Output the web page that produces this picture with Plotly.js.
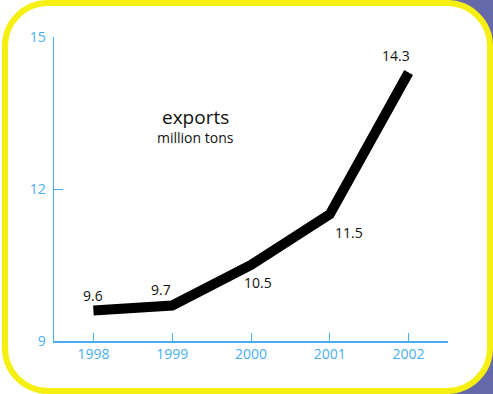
<!DOCTYPE html>
<html>
<head>
<meta charset="utf-8">
<script src="https://cdn.plot.ly/plotly-3.0.1.min.js"></script>
<style>
html,body{margin:0;padding:0;width:493px;height:394px;overflow:hidden;}
body{background:linear-gradient(to right,#ffffff 0px,#ffffff 450px,#6569a9 450px,#6569a9 493px);}
#frame{position:absolute;left:2px;top:0px;width:479px;height:382px;border:6px solid #f5f012;border-radius:46px;background:#ffffff;}
#chart{position:absolute;left:0;top:0;width:493px;height:394px;}
</style>
</head>
<body>
<div id="frame"></div>
<div id="chart"></div>
<script>
const years = [1998, 1999, 2000, 2001, 2002];
const exportsMt = [9.6, 9.7, 10.5, 11.5, 14.3];
const yTicks = [9, 12, 15];
const labelXShift = [0, -11, 7, 19, -13];
const labelYShift = [15, 16, -17, -18, 17];

const blue = '#48aef0';
const trace = {
  x: years, y: exportsMt, type: 'scatter', mode: 'lines',
  line: {color: '#000000', width: 10},
  hoverinfo: 'skip'
};
const annotations = years.map((yr, i) => ({
  x: yr, y: exportsMt[i], xref: 'x', yref: 'y',
  text: exportsMt[i].toFixed(1), showarrow: false,
  xanchor: 'center', yanchor: 'middle',
  xshift: labelXShift[i], yshift: labelYShift[i],
  font: {family: 'Open Sans, sans-serif', size: 14, color: '#111111'}
}));
annotations.push({
  xref: 'paper', yref: 'paper', x: 0.36, y: 0.737, showarrow: false,
  xanchor: 'center', yanchor: 'middle',
  text: 'exports', font: {family: 'Open Sans, sans-serif', size: 19, color: '#111111'}
});
annotations.push({
  xref: 'paper', yref: 'paper', x: 0.36, y: 0.668, showarrow: false,
  xanchor: 'center', yanchor: 'middle',
  text: 'million tons', font: {family: 'Open Sans, sans-serif', size: 14, color: '#111111'}
});
const layout = {
  width: 493, height: 394,
  margin: {l: 54, r: 45, t: 37, b: 53},
  paper_bgcolor: 'rgba(0,0,0,0)', plot_bgcolor: 'rgba(0,0,0,0)',
  showlegend: false,
  xaxis: {
    range: [1997.5, 2002.5], tickvals: years, ticktext: years.map(String),
    ticks: 'inside', ticklen: 8, tickcolor: blue, tickwidth: 1,
    showline: true, linecolor: blue, linewidth: 1.5,
    showgrid: false, zeroline: false,
    tickfont: {family: 'Open Sans, sans-serif', size: 14, color: blue}
  },
  yaxis: {
    range: [9, 15], tickvals: yTicks, ticktext: yTicks.map(String),
    ticks: 'inside', ticklen: 9, tickcolor: blue, tickwidth: 1,
    showline: true, linecolor: blue, linewidth: 1.5,
    showgrid: false, zeroline: false, ticklabelstandoff: 4,
    tickfont: {family: 'Open Sans, sans-serif', size: 14, color: blue}
  },
  annotations: annotations
};
Plotly.newPlot('chart', [trace], layout, {displayModeBar: false, staticPlot: true});
</script>
</body>
</html>
